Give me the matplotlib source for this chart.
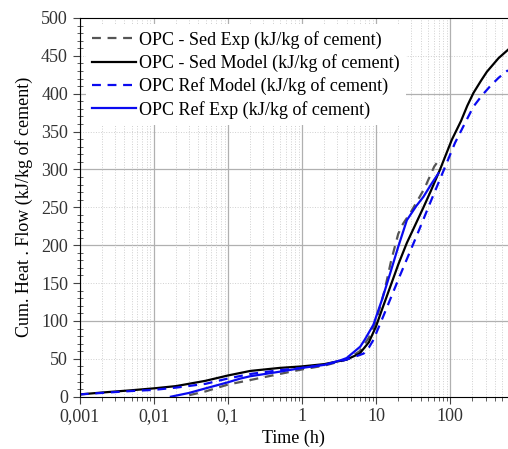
import matplotlib.pyplot as plt
import numpy as np

plt.rcParams['font.family'] = ['Liberation Serif', 'DejaVu Serif']

# OPC - Sed Exp
sed_exp_t = [0.03, 0.05, 0.1, 0.2, 0.5, 1, 2, 4, 6, 8, 10, 13, 16, 19.9, 23, 30, 45, 61, 70]
sed_exp_v = [2, 7, 16, 22, 30, 36, 41, 49, 60, 78, 100, 140, 180, 215, 228, 245, 275, 304, 312]

# OPC - Sed Model
sed_mod_t = [0.001, 0.002, 0.005, 0.01, 0.02, 0.05, 0.1, 0.2, 0.5, 1, 2, 4, 6, 8, 10, 12,
             15.5, 20, 26, 35, 43.6, 55, 73, 105, 140, 170, 206, 260, 313, 450, 603]
sed_mod_v = [3, 5.5, 8.5, 11, 14, 21, 28, 34, 38, 40, 43, 49, 57, 72, 93, 115,
             145, 175, 203, 230, 250, 272, 300, 339, 364, 384, 401, 417, 429, 447, 458]

# OPC Ref Model
ref_mod_t = [0.001, 0.002, 0.005, 0.01, 0.02, 0.05, 0.1, 0.2, 0.5, 1, 2, 4, 6, 6.8, 8, 9.2,
             12.6, 21, 35.5, 53.7, 81, 116, 160, 206, 270, 347, 450, 603]
ref_mod_v = [3, 5, 7.5, 9, 12, 17, 24, 30, 35, 38, 42, 49, 55, 57, 65, 75,
             107, 160, 213, 256, 298, 335, 362, 383, 398, 410, 421, 431]

# OPC Ref Exp
ref_exp_t = [0.017, 0.03, 0.05, 0.1, 0.148, 0.2, 0.5, 1, 2, 3.3, 4, 6.1, 7, 9.2, 12,
             15.5, 19.9, 26, 35, 43.6, 55, 69.5]
ref_exp_v = [0, 5, 11, 19, 24, 27, 33, 38, 42, 48, 51, 66, 75, 95, 128,
             163, 198, 233, 252, 264, 280, 295]

xtick_vals = [0.001, 0.01, 0.1, 1, 10, 100]
xtick_labels = ['0,001', '0,01', '0,1', '1', '10', '100']

fig = plt.figure(figsize=(5.08, 4.49), dpi=100)
ax = fig.add_axes([0.157, 0.1165, 0.843, 0.8435])

ax.plot(sed_exp_t, sed_exp_v, color='#555555', lw=1.6, linestyle=(0, (4, 3)),
        label='OPC - Sed Exp (kJ/kg of cement)')
ax.plot(sed_mod_t, sed_mod_v, color='black', lw=1.6,
        label='OPC - Sed Model (kJ/kg of cement)')
ax.plot(ref_mod_t, ref_mod_v, color='#0a0af0', lw=1.6, linestyle=(0, (4, 3)),
        label='OPC Ref Model (kJ/kg of cement)')
ax.plot(ref_exp_t, ref_exp_v, color='#0a0af0', lw=1.6,
        label='OPC Ref Exp (kJ/kg of cement)')

ax.set_xscale('log')
ax.set_xlim(0.001, 603)
ax.set_ylim(0, 500)
ax.set_xticks(xtick_vals)
ax.set_xticklabels(xtick_labels)
ax.set_yticks(np.arange(0, 501, 50))
ax.set_yticks(np.arange(0, 501, 10), minor=True)

# 그리드: 큰 눈금 실선, 작은 눈금 점선
ax.grid(which='major', axis='x', color='#b0b0b0', lw=0.9)
ax.grid(which='minor', axis='x', color='#d0d0d0', lw=0.7, linestyle=':')
for yv in range(100, 500, 100):
    ax.axhline(yv, color='#b0b0b0', lw=0.9, zorder=0.5)
for yv in range(50, 500, 100):
    ax.axhline(yv, color='#d0d0d0', lw=0.7, linestyle=':', zorder=0.5)
ax.set_axisbelow(True)

ax.spines['right'].set_visible(False)
ax.tick_params(which='major', direction='out', length=5, labelsize=13,
               labelcolor='#333333', color='#444444')
ax.tick_params(which='minor', direction='out', length=3, color='#444444')
ax.tick_params(axis='y', which='minor', direction='inout', length=4)

ax.set_xlabel('Time (h)', fontsize=13, labelpad=3)
ax.set_ylabel('Cum. Heat . Flow (kJ/kg of cement)', fontsize=13, labelpad=6)

leg = ax.legend(loc='upper left', fontsize=13, frameon=True, fancybox=False,
                edgecolor='none', facecolor='white', framealpha=1,
                handlelength=2.4, handletextpad=0.2, labelspacing=0.3,
                borderaxespad=0.35, borderpad=0.35)

plt.savefig('out.png', dpi=100)
